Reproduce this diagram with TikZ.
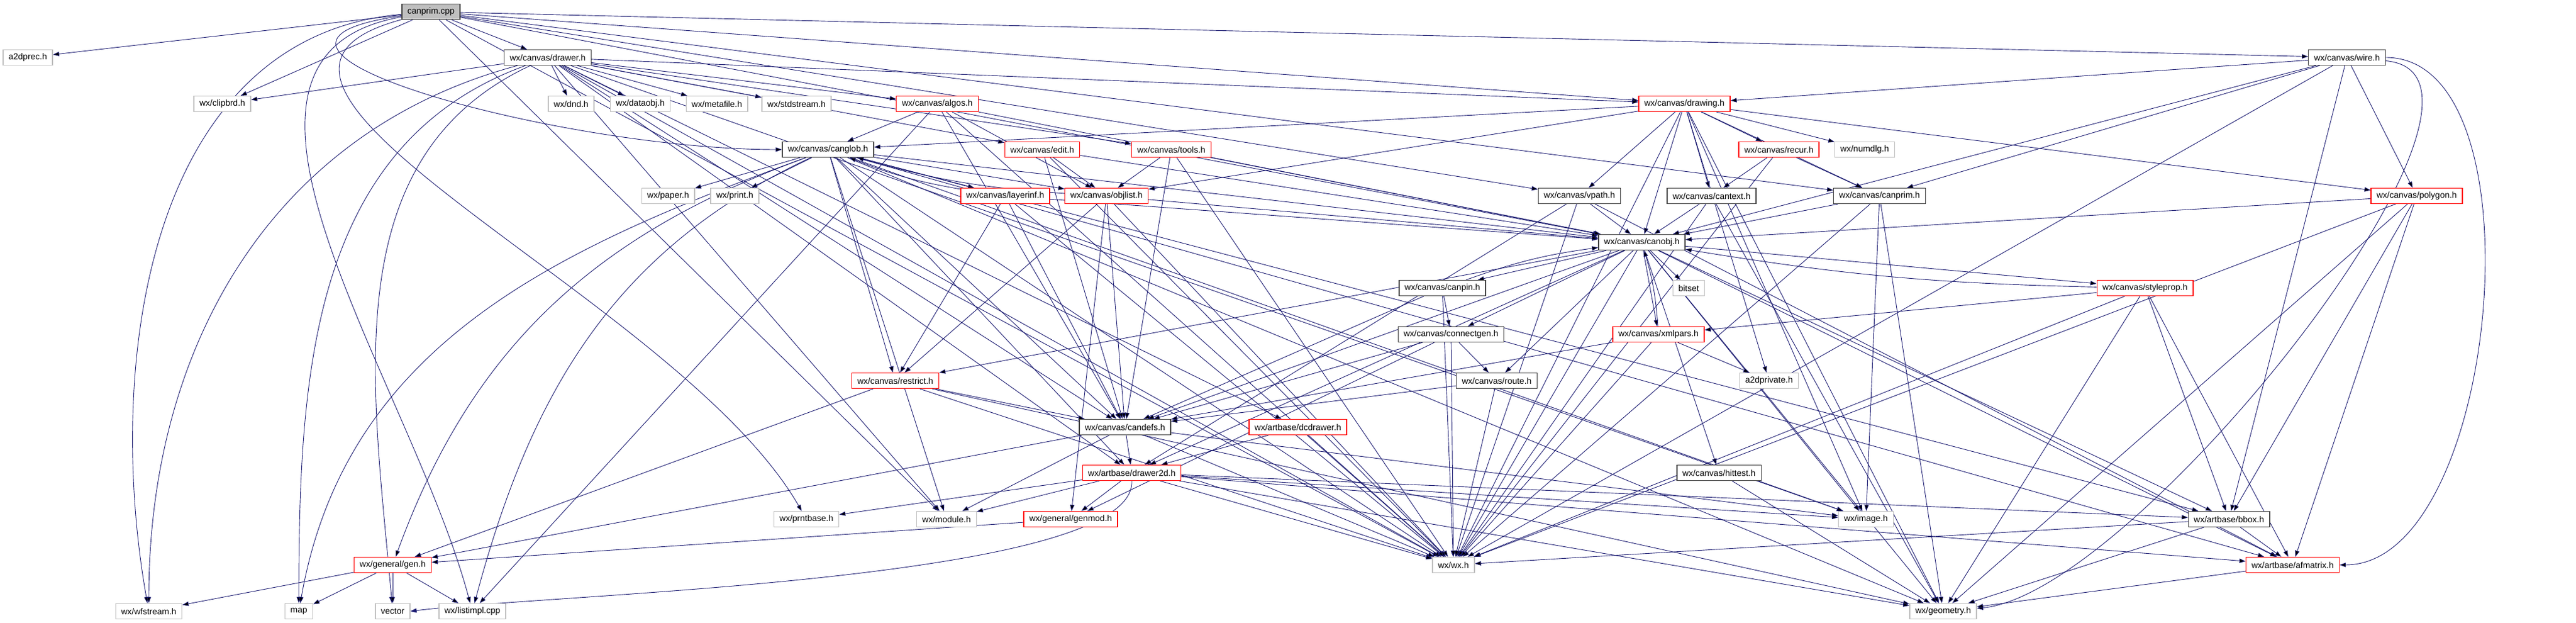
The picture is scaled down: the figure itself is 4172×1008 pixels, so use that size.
\documentclass[tikz,border=0pt]{standalone}
\usepackage{fontspec}
\setmainfont{Liberation Sans}
\usetikzlibrary{arrows.meta}
\usetikzlibrary{backgrounds}
\definecolor{edgeblue}{HTML}{191970}
\definecolor{extgray}{HTML}{BFBFBF}
\definecolor{truncred}{HTML}{FF0000}
\tikzset{
  file/.style={rectangle, draw, line width=1.3pt, minimum height=25pt,
    inner xsep=9pt, inner ysep=0pt, fill=white,
    font=\fontsize{14}{16}\selectfont},
  root/.style={file, draw=black!75, fill=extgray},
  doc/.style={file, draw=black!75},
  trunc/.style={file, draw=truncred},
  ext/.style={file, draw=extgray},
  dep/.style={draw=edgeblue, line width=0.9pt, -{Triangle[length=10pt,width=7pt]}}
}

\begin{document}
\begin{tikzpicture}[x=1pt, y=-1pt]
  \useasboundingbox (0,0) rectangle (4172,1008);

  \node[root] (cpp) at (698,19) {canprim.cpp};

  \node[ext] (a2dprec) at (45,93) {a2dprec.h};
  \node[doc] (drawer) at (887,93) {wx/canvas/drawer.h};
  \node[doc] (wire) at (3801,93) {wx/canvas/wire.h};

  \node[ext] (clipbrd) at (360,168) {wx/clipbrd.h};
  \node[ext] (dnd) at (925,168) {wx/dnd.h};
  \node[ext] (dataobj) at (1037,168) {wx/dataobj.h};
  \node[ext] (metafile) at (1161,168) {wx/metafile.h};
  \node[ext] (stdstream) at (1290,168) {wx/stdstream.h};
  \node[trunc] (algos) at (1518,168) {wx/canvas/algos.h};
  \node[trunc] (drawing) at (2728,168) {wx/canvas/drawing.h};

  \node[doc] (canglob) at (1341,242) {wx/canvas/canglob.h};
  \node[trunc] (edit) at (1688,242) {wx/canvas/edit.h};
  \node[trunc] (tools) at (1897,242) {wx/canvas/tools.h};
  \node[trunc] (recur) at (2881,242) {wx/canvas/recur.h};
  \node[ext] (numdlg) at (3020,242) {wx/numdlg.h};

  \node[ext] (paper) at (1082,317) {wx/paper.h};
  \node[ext] (print) at (1190,317) {wx/print.h};
  \node[trunc] (layerinf) at (1628,317) {wx/canvas/layerinf.h};
  \node[trunc] (objlist) at (1792,317) {wx/canvas/objlist.h};
  \node[doc] (vpath) at (2558,317) {wx/canvas/vpath.h};
  \node[doc] (cantext) at (2772,317) {wx/canvas/cantext.h};
  \node[doc] (canprimh) at (3044,317) {wx/canvas/canprim.h};
  \node[trunc] (polygon) at (3914,317) {wx/canvas/polygon.h};

  \node[doc] (canobj) at (2659,392) {wx/canvas/canobj.h};

  \node[doc] (canpin) at (2336,466) {wx/canvas/canpin.h};
  \node[ext] (bitset) at (2735,466) {bitset};
  \node[trunc] (styleprop) at (3474,466) {wx/canvas/styleprop.h};

  \node[doc] (connectgen) at (2350,541) {wx/canvas/connectgen.h};
  \node[trunc] (xmlpars) at (2686,541) {wx/canvas/xmlpars.h};

  \node[trunc] (restrict) at (1450,616) {wx/canvas/restrict.h};
  \node[doc] (route) at (2424,616) {wx/canvas/route.h};
  \node[ext] (a2dprivate) at (2865,616) {a2dprivate.h};

  \node[doc] (candefs) at (1822,691) {wx/canvas/candefs.h};
  \node[trunc] (dcdrawer) at (2102,691) {wx/artbase/dcdrawer.h};

  \node[trunc] (drawer2d) at (1833,765) {wx/artbase/drawer2d.h};
  \node[doc] (hittest) at (2784,765) {wx/canvas/hittest.h};

  \node[ext] (prntbase) at (1306,840) {wx/prntbase.h};
  \node[ext] (module) at (1533,840) {wx/module.h};
  \node[trunc] (genmod) at (1734,840) {wx/general/genmod.h};
  \node[ext] (image) at (3022,840) {wx/image.h};
  \node[doc] (bbox) at (3610,840) {wx/artbase/bbox.h};

  \node[trunc] (gen) at (636,914) {wx/general/gen.h};
  \node[ext] (wx) at (2354,914) {wx/wx.h};
  \node[trunc] (afmatrix) at (3713,914) {wx/artbase/afmatrix.h};

  \node[ext] (wfstream) at (241,989) {wx/wfstream.h};
  \node[ext] (map) at (484,989) {map};
  \node[ext] (vector) at (636,989) {vector};
  \node[ext] (listimpl) at (765,989) {wx/listimpl.cpp};
  \node[ext] (geometry) at (3147,989) {wx/geometry.h};

  \begin{scope}[on background layer]
    \path[dep] (cpp) edge (a2dprec) edge (drawer) edge (wire) edge (clipbrd)
      edge[out=185, in=100] (wfstream) edge[out=190, in=105] (listimpl)
      edge[out=195, in=120] (prntbase) edge[out=188, in=180, looseness=1.4] (canglob)
      edge (drawing) edge (vpath) edge (canobj) edge (canprimh) edge (module) edge (wx);
    \path[dep] (drawer) edge (clipbrd) edge (dnd) edge (dataobj) edge (metafile)
      edge (stdstream) edge (algos) edge (drawing) edge (edit) edge (tools)
      edge[out=195, in=90] (wfstream) edge[out=205, in=95] (vector)
      edge[out=200, in=90] (map) edge (module) edge (candefs) edge (drawer2d)
      edge (dcdrawer) edge (wx) edge (image);
    \path[dep] (wire) edge (drawing) edge (canprimh) edge (canobj) edge (polygon)
      edge (bbox) edge[out=0, in=0, looseness=0.8] (afmatrix)
      edge[out=-5, in=5, looseness=0.6] (geometry) edge (wx);
    \path[dep] (algos) edge (canglob) edge (objlist) edge (candefs)
      edge (listimpl) edge (canobj) edge (wx);
    \path[dep] (drawing) edge (canglob) edge (objlist) edge (vpath) edge (canobj)
      edge (cantext) edge (recur) edge (numdlg) edge (canprimh) edge (polygon)
      edge (a2dprivate) edge (image) edge (wx) edge (geometry);
    \path[dep] (canglob) edge (paper) edge (print) edge (layerinf) edge (objlist)
      edge (canobj) edge (candefs) edge (drawer2d) edge (restrict)
      edge[out=200, in=70] (gen) edge[out=200, in=80] (map)
      edge[out=205, in=75] (listimpl) edge (module) edge (image)
      edge (geometry) edge (wx) edge (bbox) edge (afmatrix);
    \path[dep] (edit) edge (objlist) edge (canobj) edge (candefs) edge (wx);
    \path[dep] (tools) edge (objlist) edge (candefs) edge (wx) edge (canobj);
    \path[dep] (recur) edge (cantext) edge (canprimh) edge (wx);
    \path[dep] (layerinf) edge[bend left=6] (canglob) edge (candefs) edge (restrict)
      edge (canobj) edge (wx);
    \path[dep] (objlist) edge[bend left=6] (canglob) edge (candefs) edge (genmod)
      edge (canobj) edge (wx) edge (restrict);
    \path[dep] (vpath) edge (canobj) edge (drawer2d) edge (afmatrix) edge (wx);
    \path[dep] (cantext) edge (canobj) edge (wx) edge (geometry);
    \path[dep] (canprimh) edge (canobj) edge (image) edge (wx) edge (geometry);
    \path[dep] (polygon) edge (canobj) edge (bbox) edge (afmatrix)
      edge (geometry) edge (wx);
    \path[dep] (canobj) edge (canpin) edge (bitset) edge (connectgen) edge (xmlpars)
      edge (route) edge (hittest) edge (candefs) edge (restrict) edge (styleprop)
      edge (bbox) edge (afmatrix) edge (geometry) edge (image) edge (wx)
      edge (drawer2d);
    \path[dep] (canpin) edge[bend left=6] (canobj) edge (connectgen)
      edge (candefs) edge (wx);
    \path[dep] (styleprop) edge[bend left=4] (canobj) edge (xmlpars) edge (bbox)
      edge (afmatrix) edge (geometry) edge (wx);
    \path[dep] (connectgen) edge (route) edge (genmod) edge (candefs) edge (wx);
    \path[dep] (xmlpars) edge[bend right=6] (canobj) edge (candefs)
      edge (a2dprivate) edge (wx);
    \path[dep] (restrict) edge (candefs) edge (gen) edge (wx) edge (geometry);
    \path[dep] (route) edge (candefs) edge (wx);
    \path[dep] (candefs) edge (drawer2d) edge (module) edge (gen) edge (wx)
      edge (image);
    \path[dep] (dcdrawer) edge (drawer2d) edge (wx);
    \path[dep] (drawer2d) edge (module) edge (genmod) edge (prntbase)
      edge (wx) edge (geometry) edge (image) edge (bbox) edge (afmatrix);
    \draw[dep] (drawer2d.south) .. controls (1840,940) and (900,960) .. (vector.east);
    \path[dep] (hittest) edge (geometry);
    \path[dep] (gen) edge (wfstream) edge (map) edge (vector) edge (listimpl);
    \path[dep] (genmod) edge (gen);
    \path[dep] (bbox) edge (afmatrix) edge (geometry) edge (wx);
    \path[dep] (afmatrix) edge (geometry);
  \end{scope}
\end{tikzpicture}
\end{document}
